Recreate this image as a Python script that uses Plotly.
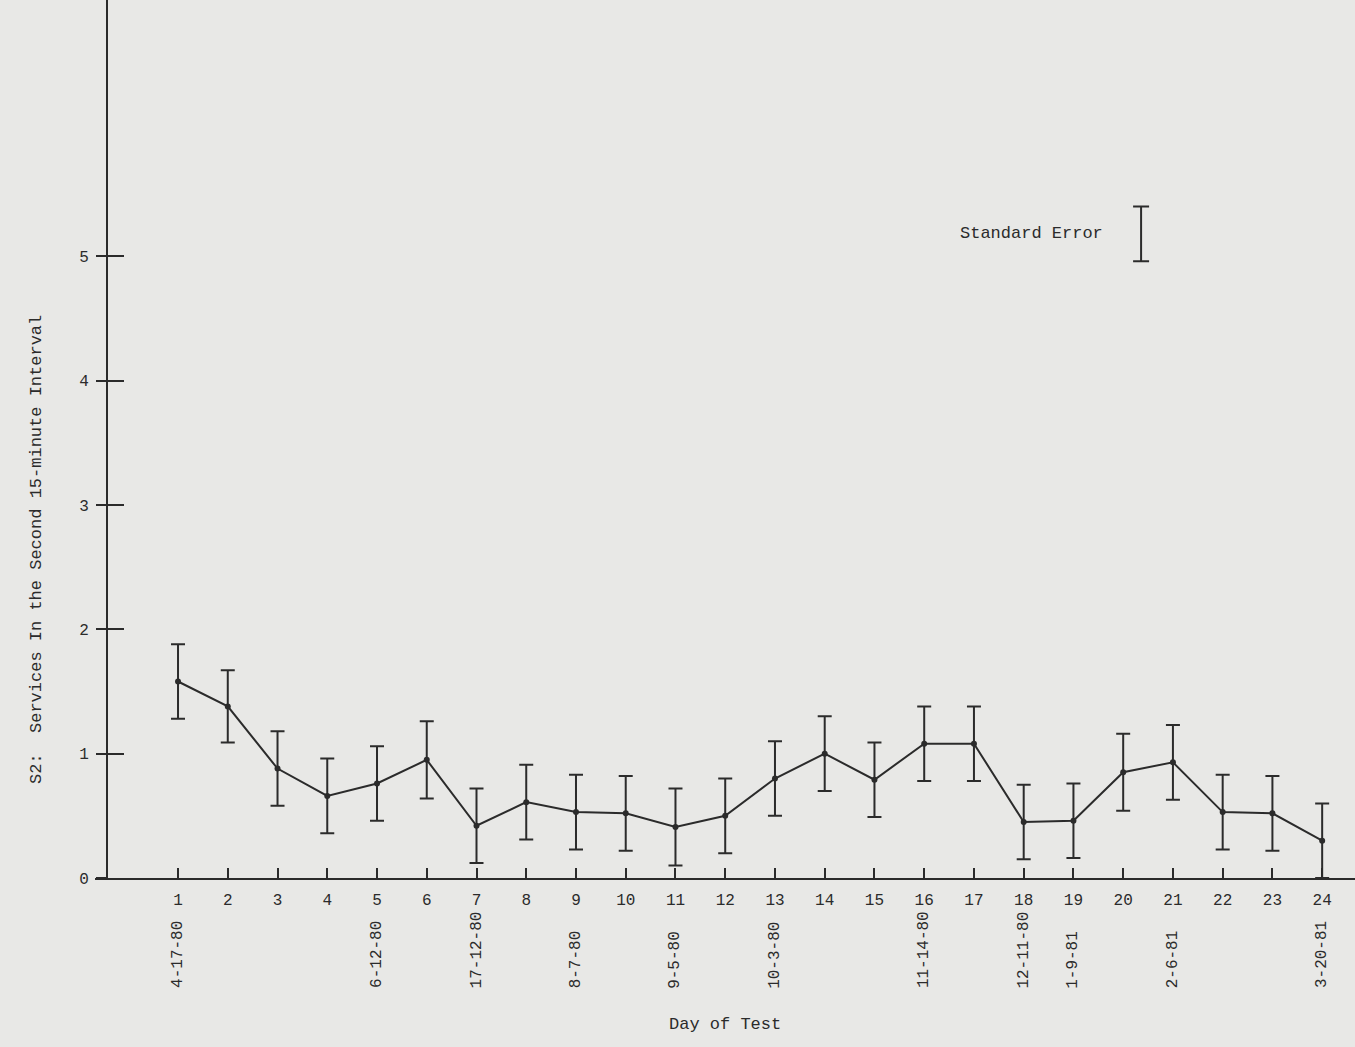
import plotly.graph_objects as go

# ---- data ----
days = list(range(1, 25))
means = [1.58, 1.38, 0.88, 0.66, 0.76, 0.95, 0.42, 0.61, 0.53, 0.52, 0.41, 0.50,
         0.80, 1.00, 0.79, 1.08, 1.08, 0.45, 0.46, 0.85, 0.93, 0.53, 0.52, 0.30]
std_err = [0.30, 0.29, 0.30, 0.30, 0.30, 0.31, 0.30, 0.30, 0.30, 0.30, 0.31, 0.30,
           0.30, 0.30, 0.30, 0.30, 0.30, 0.30, 0.30, 0.31, 0.30, 0.30, 0.30, 0.30]
date_days = [1, 5, 7, 9, 11, 13, 16, 18, 19, 21, 24]
date_labels = ["4-17-80", "6-12-80", "17-12-80", "8-7-80", "9-5-80", "10-3-80",
               "11-14-80", "12-11-80", "1-9-81", "2-6-81", "3-20-81"]
y_ticks = [0, 1, 2, 3, 4, 5]
legend_text = "Standard Error"
x_title = "Day of Test"
y_title = "S2:  Services In the Second 15-minute Interval"

INK = "#2b2b2b"
BG = "#e8e8e6"
FONT = "Liberation Mono"

fig = go.Figure()
fig.add_trace(go.Scatter(
    x=days, y=means, mode="lines+markers",
    line=dict(color=INK, width=2),
    marker=dict(color=INK, size=6),
    error_y=dict(type="data", array=std_err, visible=True,
                 color=INK, thickness=2, width=7),
    showlegend=False, hoverinfo="x+y",
))
# legend "Standard Error" glyph
fig.add_trace(go.Scatter(
    x=[20.36], y=[5.18], mode="markers",
    marker=dict(size=1, color="rgba(0,0,0,0)"),
    error_y=dict(type="data", array=[0.22], visible=True,
                 color=INK, thickness=2, width=8),
    showlegend=False, hoverinfo="skip", yaxis="y2",
))

for d, lab in zip(date_days, date_labels):
    fig.add_annotation(x=d, y=-0.128, xref="x", yref="paper", text=lab,
                       textangle=-90, showarrow=False, xanchor="center",
                       yanchor="bottom", font=dict(family=FONT, size=16, color=INK))

fig.add_annotation(x=19.64, y=5.18, xref="x", yref="y", text=legend_text,
                   showarrow=False, xanchor="right", yanchor="middle",
                   font=dict(family=FONT, size=17, color=INK))
fig.add_annotation(x=0.5, y=-0.167, xref="paper", yref="paper", text=x_title,
                   showarrow=False, xanchor="center", yanchor="middle",
                   font=dict(family=FONT, size=17, color=INK))
fig.add_annotation(x=-0.046, y=0.3736, xref="paper", yref="paper", text=y_title,
                   textangle=-90, showarrow=False, xanchor="center", yanchor="middle",
                   font=dict(family=FONT, size=17, color=INK))

fig.update_layout(
    width=1355, height=1047,
    margin=dict(l=95, r=0, t=0, b=169),
    paper_bgcolor=BG, plot_bgcolor=BG,
    font=dict(family=FONT, color=INK),
    xaxis=dict(range=[-0.669, 24.66], tickmode="array", tickvals=days,
               ticktext=[str(d) for d in days], ticks="inside", ticklen=10,
               tickwidth=1.5, tickcolor=INK, showline=True, linecolor=INK,
               linewidth=2, showgrid=False, zeroline=False,
               tickfont=dict(family=FONT, size=16, color=INK),
               ticklabelstandoff=6),
    yaxis=dict(range=[0, 7.06], tickmode="array", tickvals=y_ticks,
               ticks="outside", ticklen=10, tickwidth=1.5, tickcolor=INK,
               showline=True, linecolor=INK, linewidth=2, showgrid=False,
               zeroline=False, anchor="free", position=0.0095,
               tickfont=dict(family=FONT, size=16, color=INK),
               ticklabelstandoff=4),
    yaxis2=dict(range=[0, 7.06], overlaying="y", anchor="free", position=0.0095,
                tickmode="array", tickvals=y_ticks, ticks="inside", ticklen=16,
                tickwidth=1.5, tickcolor=INK, showticklabels=False,
                showline=False, showgrid=False, zeroline=False),
)

fig.write_html("out.html", config={"displayModeBar": False},
               post_script="document.body.style.margin='0';document.body.style.overflow='hidden';")
